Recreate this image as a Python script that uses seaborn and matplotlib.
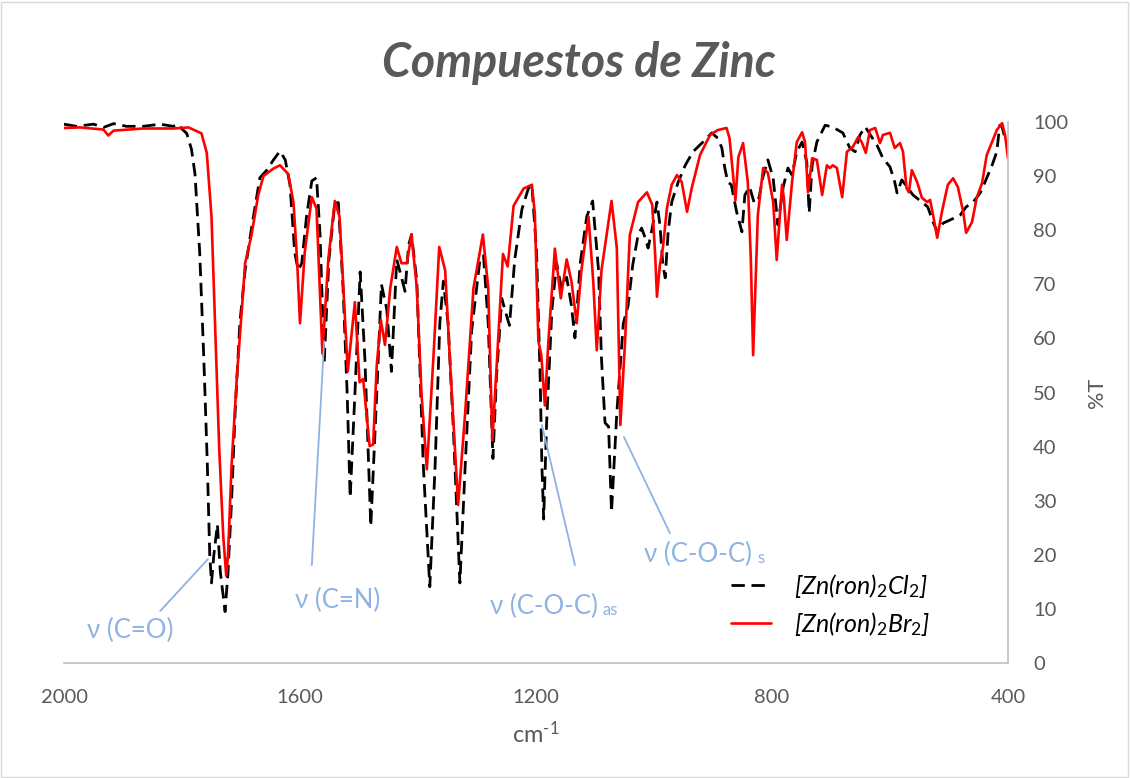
import numpy as np
import pandas as pd
import matplotlib
matplotlib.use("Agg")
import matplotlib.pyplot as plt
import seaborn as sns
from matplotlib.patches import Rectangle

# ---------------- data ----------------
wn_br = [2000, 1973, 1933, 1925, 1916, 1866, 1815, 1789, 1767, 1758, 1750, 1744, 1737, 1730,
         1725, 1722, 1716, 1707, 1699, 1693, 1682, 1671, 1662, 1645, 1634, 1620, 1611, 1605,
         1600, 1592, 1580, 1572, 1562, 1552, 1541, 1533, 1519, 1507, 1499, 1493, 1482, 1476,
         1470, 1463, 1456, 1447, 1436, 1428, 1419, 1411, 1402, 1394, 1385, 1374, 1364, 1354,
         1346, 1332, 1320, 1306, 1290, 1281, 1274, 1266, 1256, 1248, 1238, 1221, 1207, 1202,
         1196, 1191, 1185, 1179, 1168, 1158, 1148, 1140, 1131, 1123, 1111, 1103, 1097, 1089,
         1072, 1063, 1057, 1049, 1041, 1027, 1012, 1003, 998, 995, 990, 985, 978, 970, 961,
         953, 944, 936, 922, 905, 892, 877, 872, 868, 862, 857, 849, 841, 836, 832, 828, 824,
         815, 807, 798, 792, 783, 780, 775, 766, 758, 749, 744, 739, 732, 724, 715, 707, 702,
         697, 690, 681, 673, 663, 654, 648, 641, 634, 625, 617, 612, 600, 592, 583, 578, 572,
         568, 563, 554, 546, 537, 532, 527, 520, 512, 502, 493, 485, 476, 471, 461, 453, 444,
         436, 427, 419, 410, 405, 400]
t_br = [98.9, 99.0, 98.6, 97.5, 98.4, 98.8, 98.8, 99.0, 97.9, 94.3, 82.5, 62.8, 39.8, 23.3,
        16.1, 20.0, 36.5, 52.9, 64.7, 73.9, 79.2, 86.4, 90.0, 91.4, 92.0, 90.4, 85.1, 74.6,
        62.8, 75.9, 86.1, 84.0, 57.2, 74.6, 85.4, 82.5, 53.9, 66.7, 51.9, 52.5, 40.1, 40.4,
        54.9, 63.4, 58.8, 69.3, 76.9, 73.9, 73.9, 79.2, 69.3, 49.6, 35.8, 56.2, 76.9, 72.6,
        56.2, 29.2, 46.3, 69.3, 79.2, 69.3, 41.1, 56.2, 75.6, 73.3, 84.5, 87.7, 88.4, 83.1,
        59.5, 56.9, 47.6, 59.5, 76.6, 67.4, 74.6, 70.6, 62.8, 72.6, 82.5, 70.6, 57.8, 72.6,
        85.4, 76.7, 44.0, 59.5, 79.1, 85.2, 87.0, 84.7, 75.4, 67.7, 73.6, 76.7, 84.1, 88.4, 90.2,
        88.9, 83.4, 87.8, 93.9, 97.6, 98.5, 98.9, 97.0, 92.5, 85.5, 93.5, 96.1, 88.9, 75.0, 56.9, 70.0, 82.8,
        91.5, 90.6, 85.2, 74.5, 88.4, 86.0, 78.2, 88.9, 96.3, 98.1, 96.3, 87.0, 93.3, 93.0, 86.5, 92.0, 91.5,
        92.0, 91.5, 86.1, 94.5, 95.4, 97.2, 96.3, 94.3, 98.5, 98.9, 96.1, 97.6, 98.0, 95.2, 96.1, 94.5, 87.8,
        87.0, 91.1, 88.9, 86.0, 85.2, 85.6, 82.8, 78.6, 83.4, 88.4, 89.6, 88.0, 83.4, 79.5, 81.5, 86.0, 88.7,
        93.9, 96.3, 98.5, 99.8, 97.6, 93.3]

wn_cl = [2000, 1979, 1950, 1933, 1916, 1894, 1866, 1837, 1815, 1806, 1801, 1792, 1784, 1778,
         1770, 1763, 1757, 1753, 1750, 1746, 1740, 1735, 1727, 1722, 1716, 1710, 1702, 1693,
         1682, 1668, 1657, 1645, 1634, 1625, 1617, 1609, 1603, 1597, 1589, 1580, 1572, 1566,
         1559, 1551, 1541, 1535, 1527, 1520, 1515, 1507, 1498, 1490, 1480, 1470, 1462, 1453,
         1445, 1436, 1428, 1422, 1416, 1411, 1402, 1391, 1380, 1371, 1363, 1357, 1349, 1340,
         1329, 1320, 1309, 1295, 1289, 1281, 1273, 1267, 1258, 1253, 1245, 1236, 1224, 1213,
         1207, 1199, 1193, 1190, 1187, 1182, 1173, 1165, 1157, 1148, 1140, 1134, 1125, 1114,
         1104, 1094, 1089, 1083, 1077, 1072, 1063, 1052, 1044, 1036, 1027, 1021, 1015, 1010,
         1003, 995, 990, 985, 981, 976, 970, 959, 947, 934, 917, 902, 892, 885, 880, 875, 869,
         860, 851, 846, 838, 830, 822, 815, 807, 798, 790, 781, 773, 766, 758, 749, 741, 737,
         732, 724, 710, 698, 680, 668, 659, 651, 642, 622, 612, 600, 592, 588, 580, 571, 561,
         546, 536, 527, 520, 510, 498, 481, 471, 459, 447, 439, 427, 419, 414, 410, 404]
t_cl = [99.6, 99.2, 99.6, 99.0, 99.7, 99.2, 99.2, 99.6, 99.2, 99.6, 98.8, 97.9, 95.0, 90.4,
        75.9, 56.2, 36.5, 20.0, 14.8, 20.0, 25.6, 16.8, 9.5, 16.8, 29.9, 46.3, 62.8, 72.6,
        80.5, 89.7, 91.0, 93.0, 94.6, 93.0, 88.4, 75.9, 72.6, 73.9, 82.5, 89.1, 89.7, 79.2,
        55.5, 74.6, 85.0, 85.1, 69.3, 49.6, 30.6, 49.6, 72.3, 56.2, 25.3, 49.6, 70.0, 65.4,
        53.9, 74.6, 71.3, 68.7, 77.2, 79.2, 70.6, 36.5, 14.1, 36.5, 62.8, 70.6, 62.8, 43.1,
        14.8, 36.5, 61.5, 74.6, 75.3, 62.8, 37.8, 52.9, 67.4, 65.4, 62.4, 74.6, 83.8, 87.7,
        88.4, 75.9, 52.9, 36.5, 26.6, 44.4, 65.4, 73.9, 69.3, 71.3, 66.1, 60.1, 73.9, 82.5,
        85.4, 72.6, 56.2, 44.4, 43.7, 27.9, 46.3, 62.8, 66.0, 73.6, 79.1, 80.4, 78.6, 76.7,
        80.4, 85.2, 81.0, 73.6, 71.2, 79.7, 85.2, 88.9, 92.0, 94.5, 96.3, 98.0, 97.0, 95.2, 91.5, 88.9, 88.4,
        83.4, 79.7, 86.5, 88.0, 85.0, 86.0, 90.0, 93.0, 89.6, 81.0, 88.0, 91.5, 90.2, 94.5, 96.3, 92.6, 83.2,
        92.0, 96.3, 99.4, 99.1, 98.0, 95.2, 94.5, 97.6, 99.1, 95.7, 93.3, 91.7, 88.9, 86.9, 89.3, 88.0, 86.5,
        85.2, 84.3, 81.5, 79.7, 81.3, 81.9, 82.8, 84.3, 85.2, 86.9, 88.9, 92.0, 94.5, 99.4, 99.1, 96.5]

series_labels = ["[Zn(ron)$_2$Cl$_2$]", "[Zn(ron)$_2$Br$_2$]"]
x_ticks = [2000, 1600, 1200, 800, 400]
y_ticks = [0, 10, 20, 30, 40, 50, 60, 70, 80, 90, 100]

# annotations text and subscripts
ann_text = ["ν (C=O)", "ν (C=N)", "ν (C-O-C)", "ν (C-O-C)"]
ann_sub = ["", "", "as", "s"]

df_cl = pd.DataFrame({"wn": wn_cl, "T": t_cl})
df_br = pd.DataFrame({"wn": wn_br, "T": t_br})

# ---------------- style ----------------
sns.set_theme(style="white")
plt.rcParams["font.family"] = ["Lato", "DejaVu Sans"]
plt.rcParams["mathtext.default"] = "it"
plt.rcParams["mathtext.fontset"] = "custom"
plt.rcParams["mathtext.it"] = "Lato:italic"
plt.rcParams["mathtext.rm"] = "Lato"

GRAY = "#595959"
BLUE = "#8DB3E2"

fig = plt.figure(figsize=(11.3, 7.78), dpi=100)
ax = fig.add_axes([64 / 1130, 1 - 663 / 778, (1008 - 64) / 1130, (663 - 122) / 778])

sns.lineplot(data=df_cl, x="wn", y="T", ax=ax, color="black", lw=2.0,
             linestyle=(0, (4.8, 2.4)), estimator=None, sort=False, label=series_labels[0])
sns.lineplot(data=df_br, x="wn", y="T", ax=ax, color="#FF0000", lw=1.9,
             estimator=None, sort=False, label=series_labels[1])

ax.set_xlim(2000, 400)
ax.set_ylim(0, 100)
ax.set_xticks(x_ticks)
ax.set_yticks(y_ticks)
ax.yaxis.tick_right()
ax.tick_params(axis="both", length=0, labelsize=14.5, labelcolor=GRAY)
ax.tick_params(axis="y", pad=18)
ax.tick_params(axis="x", pad=19)

for s in ["left", "top"]:
    ax.spines[s].set_visible(False)
for s in ["right", "bottom"]:
    ax.spines[s].set_color("#BFBFBF")
    ax.spines[s].set_linewidth(1.2)

ax.set_xlabel("cm$^{\\text{-1}}$", fontsize=17, color=GRAY, labelpad=10)
ax.set_ylabel("")
ax.text(1.094, 0.5, "%T", transform=ax.transAxes, rotation=90, ha="center", va="center",
        fontsize=15.5, color=GRAY)

fig.text(0.512, 0.919, "Compuestos de Zinc", ha="center", va="center",
         fontsize=33.5, fontweight="bold", fontstyle="italic", color=GRAY)

# annotations
ann_pos = [(1888, 6.0), (1536, 11.6), (1187, 10.5), (925, 20.0)]
ann_tail = [(1837, 9.6), (1580, 18.1), (1134, 18.1), (973, 24.0)]
ann_head = [(1756, 19.2), (1559, 59.5), (1190, 44.0), (1051, 41.8)]
for txt, sub, pos, tail, head in zip(ann_text, ann_sub, ann_pos, ann_tail, ann_head):
    ax.plot([tail[0], head[0]], [tail[1], head[1]], color=BLUE, lw=1.3)
    t = ax.text(pos[0], pos[1], txt, ha="center", va="center", fontsize=18.5, color=BLUE)
    if sub:
        fig.canvas.draw()
        bb = t.get_window_extent()
        inv = ax.transData.inverted()
        x1, y0 = inv.transform((bb.x1 + 5, bb.y0 + 1))
        ax.text(x1, y0, sub, ha="left", va="bottom", fontsize=12, color=BLUE)

leg = ax.legend(loc="upper left", bbox_to_anchor=(0.683, 0.21), frameon=False,
                handlelength=1.6, handletextpad=0.9, labelspacing=0.4,
                prop={"size": 18, "style": "italic"})
for txt in leg.get_texts():
    txt.set_color("black")

fig.patches.append(Rectangle((0.001, 0.001), 0.997, 0.997, transform=fig.transFigure,
                             fill=False, edgecolor="#D9D9D9", lw=1.0))

fig.savefig("out.png", dpi=100, facecolor="white")
